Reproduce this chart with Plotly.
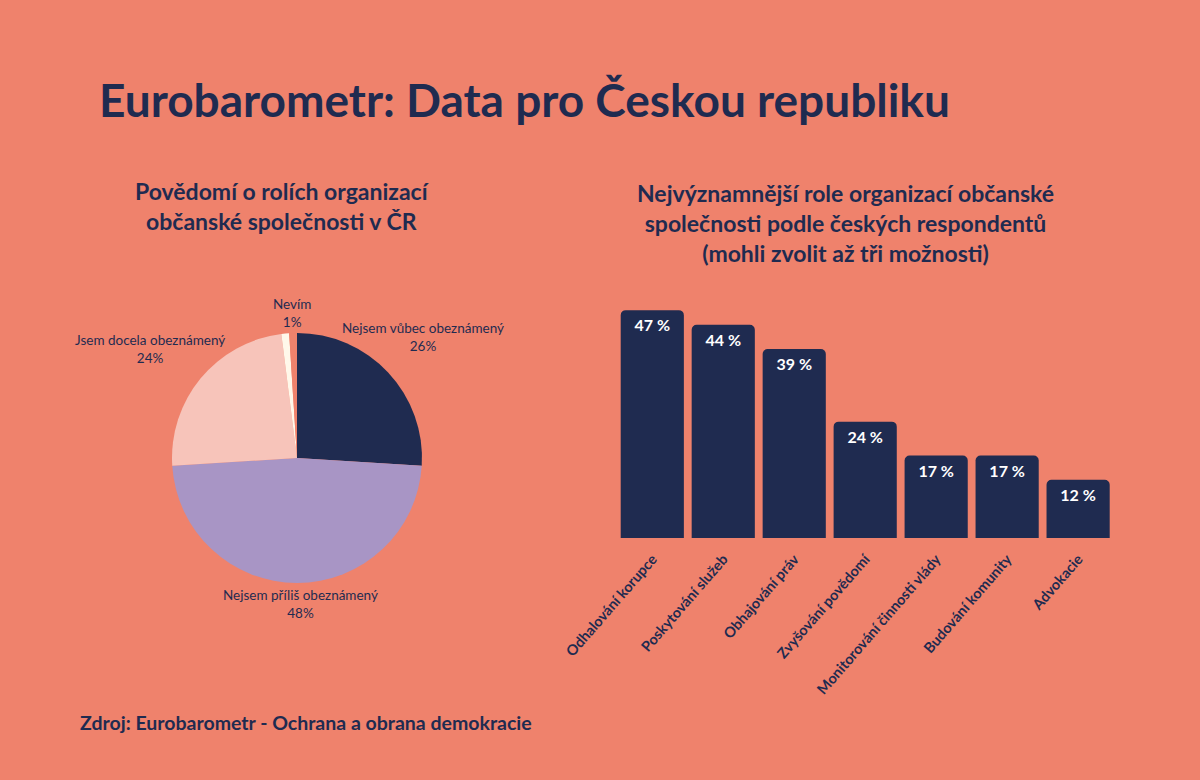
import plotly.graph_objects as go

# data
pie_labels = ['Nejsem vůbec obeznámený', 'Nejsem příliš obeznámený', 'Jsem docela obeznámený', 'Nevím', '']
pie_values = [26, 48, 24, 1, 1]
pie_colors = ['#1F2B50', '#A895C5', '#F7C4BA', '#FFF8EA', '#EF826C']

roles = ['Odhalování korupce', 'Poskytování služeb', 'Obhajování práv', 'Zvyšování povědomí',
         'Monitorování činnosti vlády', 'Budování komunity', 'Advokacie']
role_values = [47, 44, 39, 24, 17, 17, 12]

BG = '#EF826C'
NAVY = '#1F2B50'
FONT = 'Lato'

fig = go.Figure()

fig.add_trace(go.Pie(
    labels=pie_labels,
    values=pie_values,
    marker=dict(colors=pie_colors, line=dict(width=0)),
    sort=False,
    direction='clockwise',
    rotation=0,
    textinfo='none',
    domain=dict(x=[0.1433, 0.3517], y=[0.2526, 0.5731]),
    automargin=False,
    showlegend=False,
    hoverinfo='label+value',
))

fig.add_trace(go.Bar(
    x=roles,
    y=role_values,
    text=[f'{v} %' for v in role_values],
    textposition='inside',
    insidetextanchor='end',
    textfont=dict(family=FONT, size=16, color='white', weight='bold'),
    marker=dict(color=NAVY, cornerradius=5, line=dict(width=0)),
    showlegend=False,
    cliponaxis=False,
))

fig.update_layout(
    width=1200, height=780,
    margin=dict(l=0, r=0, t=0, b=0, autoexpand=False),
    paper_bgcolor=BG,
    plot_bgcolor=BG,
    bargap=0.11,
    font=dict(family=FONT, color=NAVY),
    xaxis=dict(domain=[0.514, 0.928], range=[-0.5, 6.5], tickangle=-49, automargin=False,
               showgrid=False, zeroline=False, showline=False, ticks='outside', ticklen=6,
               tickcolor='rgba(0,0,0,0)',
               tickfont=dict(family=FONT, size=14.5, color=NAVY, weight='bold')),
    yaxis=dict(domain=[0.3103, 0.621], range=[0, 50], visible=False, automargin=False),
)

# pie labels placed around the pie like in the original
label_pos = [(423, 337), (300, 604), (150, 349), (292, 313)]
for (px, py), lab, val in zip(label_pos, pie_labels[:4], pie_values[:4]):
    fig.add_annotation(text=f'{lab}<br>{val}%', x=px / 1200, y=1 - py / 780,
                       xref='paper', yref='paper', xanchor='center', yanchor='middle', showarrow=False,
                       font=dict(family=FONT, size=13.5, color=NAVY))

fig.add_annotation(text='Eurobarometr: Data pro Českou republiku', x=97 / 1200, y=1 - 100 / 780,
                   xref='paper', yref='paper', xanchor='left', yanchor='middle', showarrow=False,
                   font=dict(family=FONT, size=46, color=NAVY, weight='bold'))
fig.add_annotation(text='Povědomí o rolích organizací<br>občanské společnosti v ČR', x=282 / 1200, y=1 - 206 / 780,
                   xref='paper', yref='paper', xanchor='center', yanchor='middle', showarrow=False,
                   font=dict(family=FONT, size=23, color=NAVY, weight='bold'))
fig.add_annotation(text='Nejvýznamnější role organizací občanské<br>společnosti podle českých respondentů<br>(mohli zvolit až tři možnosti)',
                   x=845 / 1200, y=1 - 223 / 780,
                   xref='paper', yref='paper', xanchor='center', yanchor='middle', showarrow=False,
                   font=dict(family=FONT, size=23, color=NAVY, weight='bold'))
fig.add_annotation(text='Zdroj: Eurobarometr - Ochrana a obrana demokracie', x=78 / 1200, y=1 - 722 / 780,
                   xref='paper', yref='paper', xanchor='left', yanchor='middle', showarrow=False,
                   font=dict(family=FONT, size=19.5, color=NAVY, weight='bold'))

fig.write_html('out.html', config={'displayModeBar': False},
               post_script="document.body.style.margin='0';")
